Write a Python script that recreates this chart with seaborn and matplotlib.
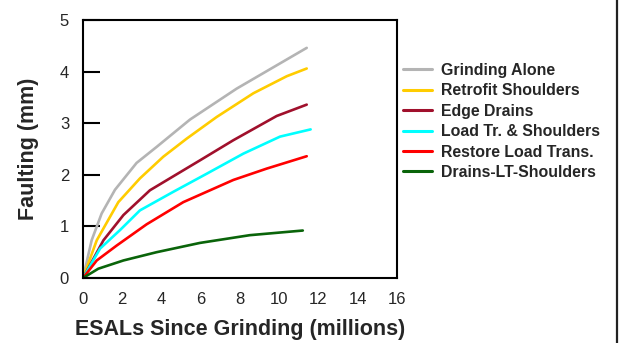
import pandas as pd
import matplotlib
matplotlib.use("Agg")
import matplotlib.pyplot as plt
import seaborn as sns
from matplotlib.lines import Line2D

# values (ESALs in millions, faulting in mm)
grind_x = [0, 0.44, 0.95, 1.63, 2.73, 3.75, 5.45, 7.83, 11.4]
grind_y = [0, 0.73, 1.25, 1.71, 2.23, 2.54, 3.07, 3.67, 4.46]
retro_x = [0, 0.70, 1.80, 2.9, 4.09, 5.28, 6.81, 8.68, 10.38, 11.4]
retro_y = [0, 0.73, 1.47, 1.93, 2.35, 2.70, 3.12, 3.58, 3.91, 4.06]
edge_x = [0, 1.04, 2.06, 3.41, 5.96, 7.66, 9.87, 11.4]
edge_y = [0, 0.73, 1.22, 1.70, 2.28, 2.67, 3.14, 3.36]
loadsh_x = [0, 0.87, 1.89, 2.9, 4.6, 6.3, 8.17, 10.04, 11.6]
loadsh_y = [0, 0.57, 0.93, 1.31, 1.67, 2.02, 2.41, 2.74, 2.88]
restore_x = [0, 0.70, 1.72, 3.24, 5.11, 7.66, 9.36, 11.4]
restore_y = [0, 0.34, 0.63, 1.04, 1.47, 1.90, 2.12, 2.36]
dlts_x = [0, 0.78, 2.06, 3.75, 5.96, 8.5, 11.2]
dlts_y = [0, 0.18, 0.34, 0.50, 0.68, 0.83, 0.92]

names = ["Grinding Alone", "Retrofit Shoulders", "Edge Drains",
         "Load Tr. & Shoulders", "Restore Load Trans.", "Drains-LT-Shoulders"]
colors = ["#b4b4b4", "#ffcc00", "#a0102c", "#00ffff", "#ff0000", "#0a640a"]

xs = [grind_x, retro_x, edge_x, loadsh_x, restore_x, dlts_x]
ys = [grind_y, retro_y, edge_y, loadsh_y, restore_y, dlts_y]
frames = []
for n, x, y in zip(names, xs, ys):
    frames.append(pd.DataFrame({"esal": x, "fault": y, "treatment": n}))
df = pd.concat(frames, ignore_index=True)

sns.set_style("white")
plt.rcParams["font.family"] = ["Liberation Sans", "DejaVu Sans"]

fig = plt.figure(figsize=(6.21, 3.43), dpi=100)
ax = fig.add_axes([83/621, 1-278/343, (397-83)/621, (278-20)/343])

sns.lineplot(data=df, x="esal", y="fault", hue="treatment", hue_order=names,
             palette=colors, linewidth=1.9, sort=False, estimator=None,
             ax=ax, legend=False)

ax.set_xlim(0, 16)
ax.set_ylim(0, 5)
ax.set_xticks(range(0, 17, 2))
ax.set_yticks(range(0, 6))
ax.tick_params(axis="y", left=True, direction="in", length=12, width=1.5,
               color="black", pad=10, labelsize=12)
ax.tick_params(axis="x", length=0, pad=10, labelsize=12)
for s in ax.spines.values():
    s.set_color("black")
    s.set_linewidth(1.5)

ax.set_xlabel("ESALs Since Grinding (millions)", fontsize=15.5, fontweight="bold", labelpad=9)
ax.set_ylabel("Faulting (mm)", fontsize=15.5, fontweight="bold", labelpad=15)

handles = [Line2D([0], [0], color=c, linewidth=2.2) for c in colors]
leg = fig.legend(handles, names, loc="upper left", bbox_to_anchor=(403/621, 1-63/343),
                 frameon=False, borderpad=0, borderaxespad=0, handlelength=1.8,
                 handletextpad=0.6, labelspacing=0.34,
                 prop={"size": 11.4, "weight": "bold"})

# border line on the right edge of the figure
fig.add_artist(Line2D([617/621, 617/621], [0, 1], color="#222222", linewidth=1.6,
                      transform=fig.transFigure))

fig.savefig("out.png", dpi=100)
